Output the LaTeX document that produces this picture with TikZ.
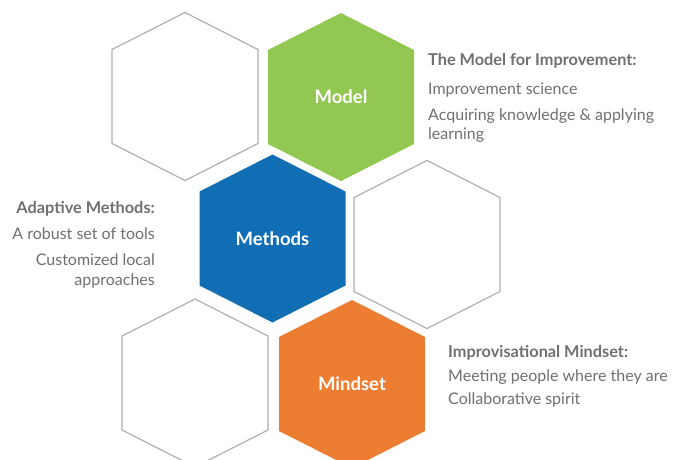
\documentclass[tikz,border=0pt]{standalone}
\usepackage{fontspec}
\setmainfont{Lato}
\usetikzlibrary{calc}
\definecolor{modelgreen}{HTML}{92C852}
\definecolor{methodblue}{HTML}{116EB5}
\definecolor{mindorange}{HTML}{ED7D31}
\definecolor{outlinegray}{HTML}{B0B0B0}
\definecolor{textgray}{HTML}{707070}
\newcommand{\hexat}[2]{\path[#2] ([shift={(0,-84)}]#1) -- ([shift={(73,-47)}]#1) -- ([shift={(73,47)}]#1) -- ([shift={(0,84)}]#1) -- ([shift={(-73,47)}]#1) -- ([shift={(-73,-47)}]#1) -- cycle;}
\begin{document}
\begin{tikzpicture}[x=1pt,y=-1pt,
  emptyhex/.style={draw=outlinegray,line width=1.2pt,fill=white},
  hexlabel/.style={text=white,font=\fontsize{18.5}{22}\selectfont\bfseries,inner sep=0pt},
  headtext/.style={text=textgray,font=\fontsize{16.3}{19}\selectfont\bfseries,inner sep=0pt,anchor=base west},
  bodytext/.style={text=textgray,font=\fontsize{16}{19}\selectfont,inner sep=0pt,anchor=base west}]
\useasboundingbox (0,0) rectangle (682,459);
\fill[white] (0,0) rectangle (682,459);
\coordinate (h1) at (185,96.5);
\coordinate (hmodel) at (341,97);
\coordinate (hmethods) at (272.5,238.5);
\coordinate (h4) at (427,244.5);
\coordinate (h5) at (195,383);
\coordinate (hmindset) at (352,384);
\hexat{h1}{emptyhex}
\hexat{h4}{emptyhex}
\hexat{h5}{emptyhex}
\hexat{hmodel}{fill=modelgreen}
\hexat{hmethods}{fill=methodblue}
\hexat{hmindset}{fill=mindorange}
\node[hexlabel] (lmodel) at (hmodel) {Model};
\node[hexlabel] (lmethods) at (hmethods) {Methods};
\node[hexlabel] (lmindset) at (hmindset) {Mindset};
% Model text
\node[headtext] (t1) at (428,65) {The Model for Improvement:};
\node[bodytext] (t2) at (428,94) {Improvement science};
\node[bodytext] (t3) at (428,120) {Acquiring knowledge \& applying};
\node[bodytext] (t4) at (428,139) {learning};
% Methods text
\node[headtext,anchor=base east] (m1) at (155,213) {Adaptive Methods:};
\node[bodytext,anchor=base east] (m2) at (155,239) {A robust set of tools};
\node[bodytext,anchor=base east] (m3) at (155,265) {Customized local};
\node[bodytext,anchor=base east] (m4) at (155,285) {approaches};
% Mindset text
\node[headtext] (s1) at (448,357) {Improvisational Mindset:};
\node[bodytext] (s2) at (448,381) {Meeting people where they are};
\node[bodytext] (s3) at (448,404) {Collaborative spirit};
\end{tikzpicture}
\end{document}
